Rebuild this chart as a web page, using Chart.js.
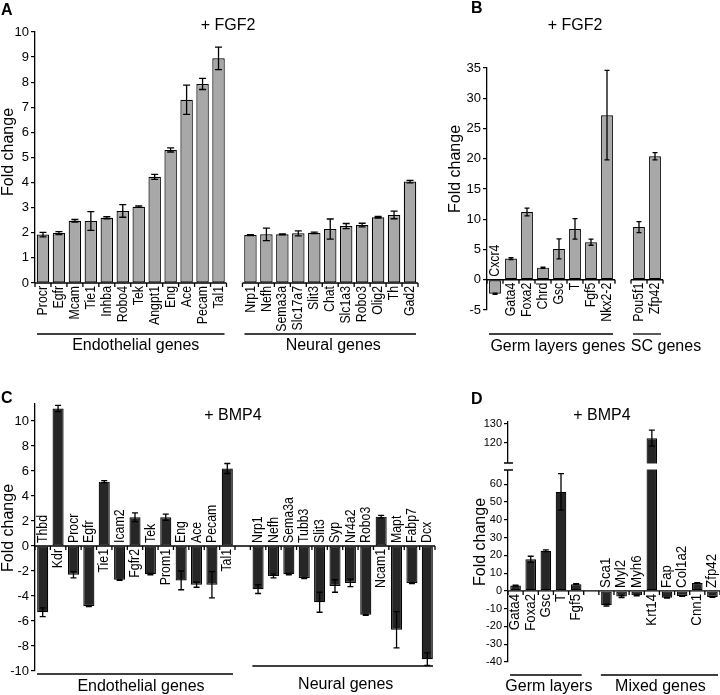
<!DOCTYPE html>
<html lang="en">
<head>
<meta charset="UTF-8">
<title>Fold change – FGF2 / BMP4</title>
<script src="https://cdn.jsdelivr.net/npm/chart.js"></script>
<style>
  body { margin: 0; background: #fff; }
  #fig { position: relative; width: 720px; height: 695px; overflow: hidden; }
  #fig canvas { position: absolute; }
</style>
</head>
<body>
<div id="fig">
  <canvas id="chartA" width="440" height="360" style="left:0;top:0"></canvas>
  <canvas id="chartB" width="280" height="360" style="left:440px;top:0"></canvas>
  <canvas id="chartC" width="470" height="335" style="left:0;top:360px"></canvas>
  <canvas id="chartD" width="250" height="335" style="left:470px;top:360px"></canvas>
</div>
<script>
// ---- A: + FGF2 ----
const aGenes = ['Procr','Egfr','Mcam','Tie1','Inhba','Robo4','Tek','Angpt1','Eng','Ace','Pecam','Tal1','',
                'Nrp1','Nefh','Sema3a','Slc17a7','Slit3','Chat','Slc1a3','Robo3','Olig2','Th','Gad2'];
const aValues = [1.93,1.99,2.48,2.47,2.6,2.87,3.04,4.23,5.3,7.3,7.93,8.95,null,
                 1.91,1.94,1.94,1.98,2.0,2.15,2.27,2.31,2.62,2.71,4.04];
const aErrors = [0.09,0.06,0.05,0.37,0.04,0.25,0.03,0.1,0.08,0.58,0.22,0.45,null,
                 0.02,0.25,0.02,0.1,0.03,0.4,0.1,0.07,0.03,0.15,0.05];

// ---- B: + FGF2 ----
const bGenes = ['Cxcr4','Gata4','Foxa2','Chrd','Gsc','T','Fgf5','Nkx2-2','','Pou5f1','Zfp42'];
const bValues = [-2.3, 3.5, 11.2, 2.0, 5.1, 8.4, 6.2, 27.2, null, 8.7, 20.4];
const bErrors = [0.1, 0.15, 0.65, 0.1, 1.65, 1.7, 0.5, 7.4, null, 0.9, 0.6];

// ---- C: + BMP4 ----
const cGenes = ['Thbd','Kdr','Procr','Egfr','Tie1','Icam2','Fgfr2','Tek','Prom1','Eng','Ace','Pecam','Tal1','',
                'Nrp1','Nefh','Sema3a','Tubb3','Slit3','Syp','Nr4a2','Robo3','Ncam1','Mapt','Fabp7','Dcx'];
const cValues = [-5.3, 11.0, -2.3, -4.8, 5.15, -2.7, 2.3, -2.25, 2.3, -2.75, -3.1, -3.1, 6.2, null,
                 -3.45, -2.4, -2.25, -2.55, -4.5, -3.2, -2.95, -5.5, 2.35, -6.7, -2.95, -9.05];
const cErrors = [0.35, 0.25, 0.25, 0.05, 0.08, 0.05, 0.35, 0.05, 0.25, 0.75, 0.2, 1.05, 0.4, null,
                 0.35, 0.15, 0.05, 0.05, 0.8, 0.5, 0.3, 0.05, 0.1, 1.45, 0.05, 0.5];

// ---- D: + BMP4 (broken axis) ----
const dGenes = ['Gata4','Foxa2','Gsc','T','Fgf5','','Sca1','Myl2','Myh6','Krt14','Fap','Col1a2','Cnn1','Zfp42'];
const dValues = [3.0, 17.8, 22.6, 55.7, 3.8, null, -8.0, -3.2, -2.5, 122.5, -3.8, -2.8, 4.4, -3.4];
const dErrors = [0.3, 1.7, 0.5, 10.3, 0.3, null, 0.5, 0.5, 0.3, 4.2, 0.3, 0.2, 0.3, 0.2];
const dSplit = 100;   // values above this go on the upper axis segment

const FONT = "'Liberation Sans', Arial, Helvetica, sans-serif";
const ink = '#000';
Chart.defaults.font.family = FONT;
Chart.defaults.color = ink;

// draws category axis, gene labels, error bars, group lines and free text
const decor = {
  id: 'decor',
  beforeDatasetDraw(chart, args) {
    const ds = chart.data.datasets[args.index];
    if (!ds.clipToAxis) return;
    const s = chart.scales[ds.yAxisID];
    chart.ctx.save();
    chart.ctx.beginPath();
    chart.ctx.rect(0, s.top, chart.width, s.bottom - s.top);
    chart.ctx.clip();
  },
  afterDatasetDraw(chart, args) {
    if (chart.data.datasets[args.index].clipToAxis) chart.ctx.restore();
  },
  afterDraw(chart, args, o) {
    const ctx = chart.ctx;
    const xs = chart.scales.x, ys = chart.scales.y;
    const slot = xs.getPixelForValue(1) - xs.getPixelForValue(0);
    const y0 = ys.getPixelForValue(0);
    const edge = i => xs.getPixelForValue(i) - slot / 2;
    ctx.save();
    ctx.strokeStyle = ink;
    ctx.fillStyle = ink;
    ctx.lineWidth = 1.3;

    // zero line with tick marks between categories
    ctx.beginPath();
    o.segments.forEach(([a, b]) => {
      ctx.moveTo(edge(a), y0);
      ctx.lineTo(edge(b + 1), y0);
      for (let i = a; i <= b + 1; i++) {
        ctx.moveTo(edge(i), y0);
        ctx.lineTo(edge(i), y0 + 4);
      }
    });
    ctx.stroke();

    // error bars
    chart.data.datasets.forEach(ds => {
      const s = chart.scales[ds.yAxisID || 'y'];
      ds.data.forEach((v, i) => {
        const e = ds.errors[i];
        if (v == null || e == null) return;
        const cx = xs.getPixelForValue(i);
        const t = s.getPixelForValue(v + e), b = s.getPixelForValue(v - e);
        ctx.beginPath();
        ctx.moveTo(cx, t); ctx.lineTo(cx, b);
        ctx.moveTo(cx - o.cap, t); ctx.lineTo(cx + o.cap, t);
        ctx.moveTo(cx - o.cap, b); ctx.lineTo(cx + o.cap, b);
        ctx.stroke();
      });
    });

    // axis break (panel D)
    if (o.brk != null) {
      const top = ys.top, ax = ys.right;
      const cx = xs.getPixelForValue(o.brk);
      ctx.fillStyle = '#fff';
      ctx.fillRect(cx - slot / 2, top - 3, slot, 6);
      ctx.fillRect(ax - 2, top - 3.5, 4, 7);
      ctx.fillStyle = ink;
      ctx.beginPath();
      [top - 3.5, top + 3.5].forEach(yy => { ctx.moveTo(ax - 4, yy); ctx.lineTo(ax + 5, yy); });
      ctx.stroke();
    }

    // gene labels, below the axis for up bars and above it for down bars
    ctx.font = o.labelFont;
    ctx.textBaseline = 'middle';
    chart.data.labels.forEach((g, i) => {
      if (!g) return;
      const up = o.values[i] >= 0;
      ctx.save();
      ctx.translate(xs.getPixelForValue(i), up ? y0 + 3 : y0 - 3);
      ctx.rotate(-Math.PI / 2);
      ctx.scale(o.squeeze, 1);
      ctx.textAlign = up ? 'right' : 'left';
      ctx.fillText(g, 0, 0);
      ctx.restore();
    });

    // gene groups
    ctx.font = '16px ' + FONT;
    ctx.textBaseline = 'alphabetic';
    ctx.textAlign = 'center';
    o.groups.forEach(gr => {
      const l = edge(gr.from) + 2, r = edge(gr.to + 1) - 2;
      const ly = gr.lineY - o.oy;
      ctx.beginPath();
      ctx.moveTo(l, ly); ctx.lineTo(r, ly);
      ctx.stroke();
      ctx.fillText(gr.label, (l + r) / 2 + gr.dx, gr.textY - o.oy);
    });

    // panel letter, treatment title and y title (page coordinates)
    o.texts.forEach(t => {
      ctx.save();
      ctx.font = t.font || '16px ' + FONT;
      ctx.translate(t.x - o.ox, t.y - o.oy);
      if (t.rot) {
        ctx.rotate(-Math.PI / 2);
        ctx.textBaseline = 'middle';
      } else {
        ctx.textBaseline = 'alphabetic';
      }
      ctx.textAlign = t.align || 'center';
      ctx.fillText(t.t, 0, 0);
      ctx.restore();
    });
    ctx.restore();
  }
};

function yAxis(min, max, step, width, size, keep, extra) {
  return Object.assign({
    type: 'linear', position: 'left', min, max,
    border: { display: true, color: ink, width: 1.3 },
    grid: { drawOnChartArea: false, drawTicks: true, tickLength: 4, color: ink, lineWidth: 1.2 },
    ticks: { stepSize: step, color: ink, padding: 2, autoSkip: false, includeBounds: false, font: { size } },
    afterBuildTicks: s => { s.ticks = s.ticks.filter(t => keep(t.value)); },
    afterFit: s => { s.width = width; }
  }, extra || {});
}

function bars(values, errors, fill, pct, extra) {
  return Object.assign({
    data: values, errors, backgroundColor: fill, borderColor: ink, borderWidth: 1.2,
    borderSkipped: false, barPercentage: pct, categoryPercentage: 1
  }, extra || {});
}

function makeChart(id, labels, datasets, scales, padding, deco) {
  return new Chart(document.getElementById(id), {
    type: 'bar',
    data: { labels, datasets },
    options: {
      responsive: false, animation: false, devicePixelRatio: 1,
      layout: { padding },
      scales: Object.assign({ x: { display: false } }, scales),
      plugins: { legend: { display: false }, tooltip: { enabled: false }, decor: deco }
    },
    plugins: [decor]
  });
}

const letter = 'bold 16px ' + FONT;
const geneFont = '15px ' + FONT;

makeChart('chartA', aGenes,
  [bars(aValues, aErrors, '#a8a8a8', 0.78)],
  { y: yAxis(0, 10, 1, 35, 13, v => true) },
  { left: 0, top: 32, right: 22, bottom: 77 },
  { ox: 0, oy: 0, cap: 3.5, values: aValues, squeeze: 0.82, labelFont: geneFont,
    segments: [[0, 11], [13, 23]],
    groups: [{ label: 'Endothelial genes', from: 0, to: 11, lineY: 334, textY: 350, dx: 5 },
             { label: 'Neural genes', from: 13, to: 23, lineY: 334, textY: 350, dx: 3 }],
    texts: [{ t: 'A', x: 1, y: 15, font: letter, align: 'left' },
            { t: '+ FGF2', x: 228, y: 30 },
            { t: 'Fold change', x: 9, y: 152, rot: true }] });

makeChart('chartB', bGenes,
  [bars(bValues, bErrors, '#a8a8a8', 0.74)],
  { y: yAxis(-5, 35, 5, 47, 13, v => true) },
  { left: 0, top: 68, right: 57, bottom: 50 },
  { ox: 440, oy: 0, cap: 2.5, values: bValues, squeeze: 0.82, labelFont: geneFont,
    segments: [[0, 7], [9, 10]],
    groups: [{ label: 'Germ layers genes', from: 0, to: 7, lineY: 334, textY: 351, dx: 7 },
             { label: 'SC genes', from: 9, to: 10, lineY: 334, textY: 351, dx: 19 }],
    texts: [{ t: 'B', x: 471, y: 13, font: letter, align: 'left' },
            { t: '+ FGF2', x: 575, y: 30 },
            { t: 'Fold change', x: 456, y: 169, rot: true }] });

makeChart('chartC', cGenes,
  [bars(cValues, cErrors, '#262626', 0.72)],
  { y: yAxis(-10, 11.4, 2, 35, 13, v => v % 2 === 0) },
  { left: 0, top: 43.5, right: 35, bottom: 24 },
  { ox: 0, oy: 360, cap: 3, values: cValues, squeeze: 0.82, labelFont: geneFont,
    segments: [[0, 25]],
    groups: [{ label: 'Endothelial genes', from: 0, to: 12, lineY: 674, textY: 691, dx: 6 },
             { label: 'Neural genes', from: 14, to: 25, lineY: 666, textY: 689, dx: 3 }],
    texts: [{ t: 'C', x: 1, y: 403, font: letter, align: 'left' },
            { t: '+ BMP4', x: 233, y: 420 },
            { t: 'Fold change', x: 9, y: 528, rot: true }] });

makeChart('chartD', dGenes,
  [bars(dValues, dErrors.map((e, i) => dValues[i] > dSplit ? null : e), '#262626', 0.7,
        { yAxisID: 'y', grouped: false, clipToAxis: true }),
   bars(dValues.map(v => v > dSplit ? v : null), dErrors.map((e, i) => dValues[i] > dSplit ? e : null),
        '#262626', 0.7, { yAxisID: 'y2', grouped: false, clipToAxis: true })],
  { y: yAxis(-40, 70, 10, 38, 11, v => v <= 60 && v % 10 === 0, { stack: 'd', stackWeight: 195.5 }),
    y2: yAxis(107.6, 131, 10, 38, 11, v => v === 120 || v === 130, { stack: 'd', stackWeight: 44.5 }) },
  { left: 0, top: 62, right: 0, bottom: 33 },
  { ox: 470, oy: 360, cap: 3, values: dValues, squeeze: 0.95, labelFont: '14px ' + FONT,
    segments: [[0, 13]], brk: 9,
    groups: [{ label: 'Germ layers', from: 0, to: 4, lineY: 675, textY: 691, dx: 3 },
             { label: 'Mixed genes', from: 6, to: 13, lineY: 675, textY: 691, dx: 1 }],
    texts: [{ t: 'D', x: 471, y: 404, font: letter, align: 'left' },
            { t: '+ BMP4', x: 602, y: 420 },
            { t: 'Fold change', x: 481, y: 542, rot: true }] });
</script>
</body>
</html>
